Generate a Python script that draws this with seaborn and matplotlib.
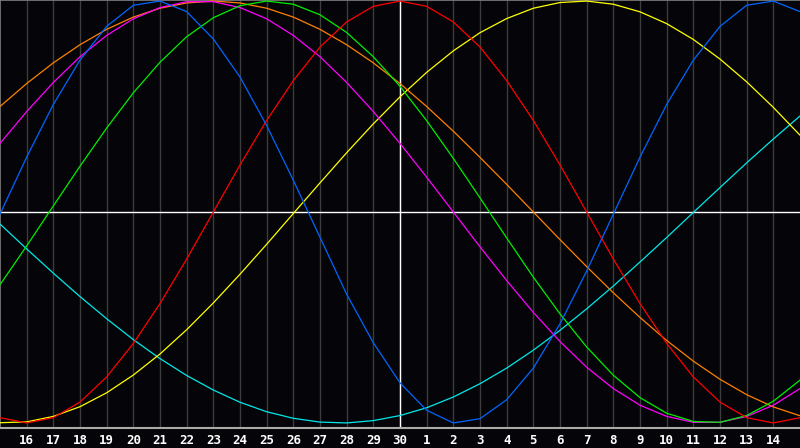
import numpy as np
import pandas as pd
import matplotlib.pyplot as plt
import seaborn as sns

# day offsets from the left edge (the 15th) to the right edge (the 15th of next month)
days = list(range(31))
tick_days = list(range(1, 30))
tick_labels = ['16', '17', '18', '19', '20', '21', '22', '23', '24', '25', '26', '27', '28', '29', '30',
               '1', '2', '3', '4', '5', '6', '7', '8', '9', '10', '11', '12', '13', '14']

physical = [-0.01, 0.26, 0.51, 0.72, 0.88, 0.98, 1.00, 0.95, 0.82, 0.64, 0.41, 0.15, -0.12, -0.39, -0.62, -0.81,
            -0.94, -1.00, -0.98, -0.89, -0.74, -0.53, -0.28, -0.01, 0.26, 0.51, 0.72, 0.88, 0.98, 1.00, 0.95]
emotional = [-0.975, -1.0, -0.975, -0.901, -0.782, -0.623, -0.434, -0.223, 0.0, 0.223, 0.434, 0.623, 0.782, 0.901,
             0.975, 1.0, 0.975, 0.901, 0.782, 0.623, 0.434, 0.223, 0.0, -0.223, -0.434, -0.623, -0.782, -0.901,
             -0.975, -1.0, -0.975]
intellectual = [-0.345, -0.161, 0.029, 0.217, 0.398, 0.565, 0.710, 0.831, 0.921, 0.978, 1.000, 0.985, 0.935, 0.851,
                0.736, 0.596, 0.433, 0.254, 0.067, -0.123, -0.309, -0.483, -0.640, -0.774, -0.880, -0.954, -0.993,
                -0.997, -0.965, -0.897, -0.797]
intuitive = [0.325, 0.476, 0.614, 0.736, 0.837, 0.916, 0.969, 0.997, 0.997, 0.969, 0.916, 0.837, 0.736, 0.614,
             0.476, 0.325, 0.165, 0.0, -0.165, -0.325, -0.476, -0.614, -0.736, -0.837, -0.916, -0.969, -0.997,
             -0.997, -0.969, -0.916, -0.837]
aesthetic = [-0.999, -0.995, -0.969, -0.923, -0.857, -0.773, -0.673, -0.558, -0.431, -0.295, -0.153, -0.007, 0.138,
             0.281, 0.418, 0.546, 0.662, 0.764, 0.850, 0.917, 0.966, 0.993, 1.000, 0.985, 0.949, 0.893, 0.818,
             0.725, 0.617, 0.496, 0.364]
awareness = [0.5, 0.609, 0.707, 0.793, 0.866, 0.924, 0.966, 0.991, 1.0, 0.991, 0.966, 0.924, 0.866, 0.793, 0.707,
             0.609, 0.5, 0.383, 0.259, 0.131, 0.0, -0.131, -0.259, -0.383, -0.5, -0.609, -0.707, -0.793, -0.866,
             -0.924, -0.966]
spiritual = [-0.057, -0.175, -0.290, -0.401, -0.506, -0.605, -0.695, -0.775, -0.844, -0.902, -0.947, -0.978,
             -0.996, -1.000, -0.989, -0.965, -0.928, -0.877, -0.814, -0.740, -0.655, -0.561, -0.459, -0.351,
             -0.237, -0.121, -0.002, 0.116, 0.233, 0.346, 0.455]

df = pd.DataFrame({'day': days, 'spiritual': spiritual, 'aesthetic': aesthetic, 'awareness': awareness,
                   'intuitive': intuitive, 'intellectual': intellectual, 'emotional': emotional,
                   'physical': physical})
long = df.melt(id_vars='day', var_name='cycle', value_name='value')

colors = {'spiritual': '#00e8e8', 'aesthetic': '#ffff00', 'awareness': '#ff8000', 'intuitive': '#ff00ff',
          'intellectual': '#00ee00', 'emotional': '#ff0000', 'physical': '#0066ff'}

bg = '#050509'
sns.set_style('dark')
fig = plt.figure(figsize=(8, 4.48), dpi=100, facecolor=bg)
ax = fig.add_axes([0, 20 / 448, 1, 428 / 448])
ax.set_facecolor(bg)

for d in tick_days:
    ax.axvline(d, color='#3c3c3c', lw=1.0, zorder=1)
ax.axvline(15, color='white', lw=1.0, zorder=2)
ax.axhline(0, color='white', lw=1.0, zorder=2)

sns.lineplot(data=long, x='day', y='value', hue='cycle', palette=colors, legend=False,
             linewidth=0.9, ax=ax, zorder=3)

ax.set_xlim(0, 30)
ax.set_ylim(-1.024, 1.005)
ax.set_xticks(tick_days)
ax.set_xticklabels(tick_labels, color='white', fontweight='bold', fontsize=9, family='DejaVu Sans Mono')
ax.set_yticks([])
ax.tick_params(axis='x', length=0, pad=4)
ax.set_xlabel('')
ax.set_ylabel('')
ax.grid(False)

for side in ['left', 'top']:
    ax.spines[side].set_color('#808080')
    ax.spines[side].set_linewidth(1.2)
ax.spines['bottom'].set_color('#aaaaaa')
ax.spines['bottom'].set_linewidth(1.5)
ax.spines['right'].set_visible(False)

fig.savefig('out.png', dpi=100, facecolor=bg)
